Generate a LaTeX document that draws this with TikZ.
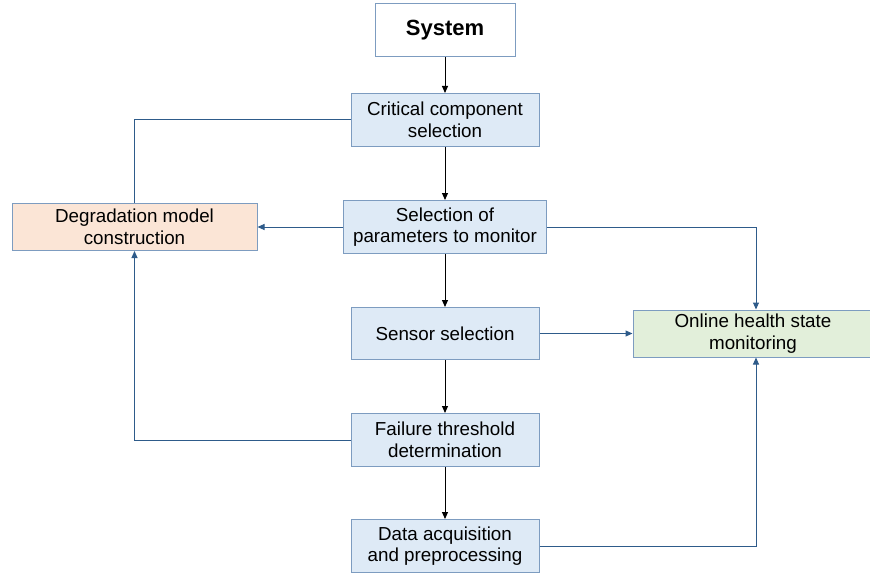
\documentclass[tikz,border=0pt]{standalone}
\usepackage{fontspec}
\setmainfont{Liberation Sans}
\usetikzlibrary{arrows.meta}
\definecolor{boxborder}{HTML}{7D9CC0}
\definecolor{bluefill}{HTML}{DEEAF6}
\definecolor{peachfill}{HTML}{FBE5D6}
\definecolor{greenfill}{HTML}{E2EFDA}
\definecolor{linkblue}{HTML}{2E5B8A}
\tikzset{
  box/.style={draw=boxborder, line width=1pt, align=center, inner sep=0pt,
    font=\fontsize{18.8}{21.5}\selectfont},
  bluebox/.style={box, fill=bluefill},
  flow/.style={black, line width=1pt, -{Triangle[length=7pt,width=6pt]}},
  link/.style={linkblue, line width=1pt, -{Triangle[length=7pt,width=6pt]}},
  plainlink/.style={linkblue, line width=1pt},
}
\begin{document}
\begin{tikzpicture}[x=1pt,y=-1pt]
\useasboundingbox (0,0) rectangle (870,575);
\node[box, fill=white, minimum width=140pt, minimum height=53pt, font=\fontsize{22}{26}\selectfont\bfseries] (sys) at (445,30.5) {System};
\node[bluebox, minimum width=188pt, minimum height=53pt] (crit) at (445,120) {Critical component\\selection};
\node[bluebox, minimum width=203pt, minimum height=53pt] (param) at (445,227) {Selection of\\parameters to monitor};
\node[box, fill=peachfill, minimum width=245pt, minimum height=47pt] (deg) at (134.5,227) {Degradation model\\construction};
\node[bluebox, minimum width=188pt, minimum height=52pt] (sens) at (445,333.5) {Sensor selection};
\node[box, fill=greenfill, minimum width=240pt, minimum height=47pt] (online) at (753,333.5) {Online health state\\monitoring};
\node[bluebox, minimum width=188pt, minimum height=53pt] (fail) at (445,440) {Failure threshold\\determination};
\node[bluebox, minimum width=188pt, minimum height=53pt] (data) at (445,546) {Data acquisition\\and preprocessing};
\coordinate (tap) at (756,0);
\draw[flow] (sys) -- (crit);
\draw[flow] (crit) -- (param);
\draw[flow] (param) -- (sens);
\draw[flow] (sens) -- (fail);
\draw[flow] (fail) -- (data);
\draw[plainlink] (crit.west) -| (deg.north);
\draw[link] (param.west) -- (deg.east);
\draw[link] (fail.west) -| (deg.south);
\draw[link] (param.east) -| (tap |- online.north);
\draw[link] (sens.east) -- (online.west);
\draw[link] (data.east) -| (tap |- online.south);
\end{tikzpicture}
\end{document}
